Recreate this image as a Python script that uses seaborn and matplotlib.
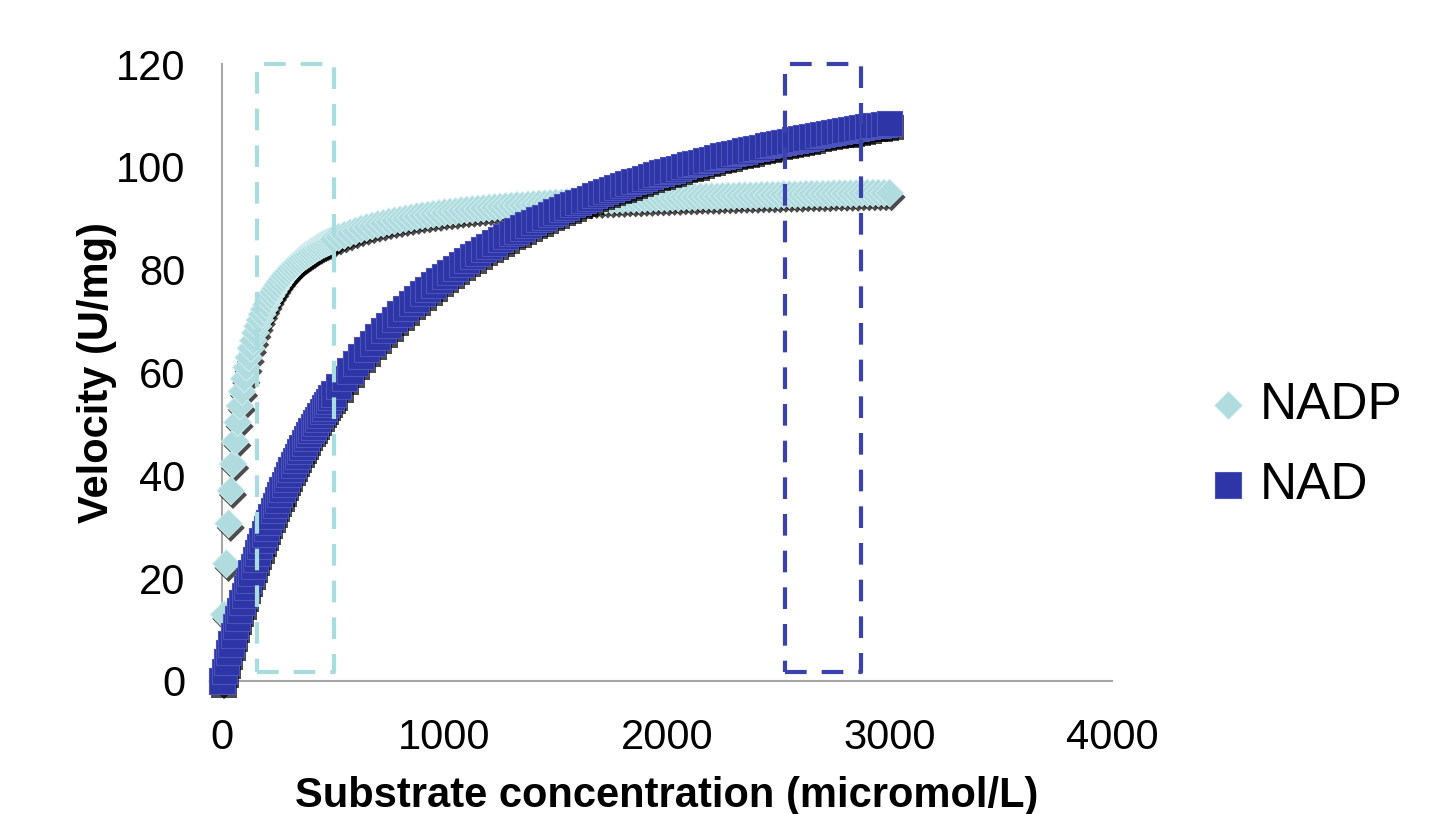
import pandas as pd
import matplotlib.pyplot as plt
import seaborn as sns
from matplotlib import patheffects as pe
from matplotlib.patches import Rectangle

# substrate concentration (micromol/L), shared by both cofactors
conc = [0, 10, 20, 30, 40, 50, 60, 70, 80, 90,
        100, 110, 120, 130, 140, 150, 160, 170, 180, 190,
        200, 210, 220, 230, 240, 250, 260, 270, 280, 290,
        300, 310, 320, 330, 340, 350, 360, 370, 380, 390,
        400, 410, 420, 430, 440, 450, 460, 470, 480, 490,
        500, 525, 550, 575, 600, 625, 650, 675, 700, 725,
        750, 775, 800, 825, 850, 875, 900, 925, 950, 975,
        1000, 1025, 1050, 1075, 1100, 1125, 1150, 1175, 1200, 1225,
        1250, 1275, 1300, 1325, 1350, 1375, 1400, 1425, 1450, 1475,
        1500, 1525, 1550, 1575, 1600, 1625, 1650, 1675, 1700, 1725,
        1750, 1775, 1800, 1825, 1850, 1875, 1900, 1925, 1950, 1975,
        2000, 2025, 2050, 2075, 2100, 2125, 2150, 2175, 2200, 2225,
        2250, 2275, 2300, 2325, 2350, 2375, 2400, 2425, 2450, 2475,
        2500, 2525, 2550, 2575, 2600, 2625, 2650, 2675, 2700, 2725,
        2750, 2775, 2800, 2825, 2850, 2875, 2900, 2925, 2950, 2975,
        3000]

# velocity (U/mg)
nadp_velocity = [0, 12.9, 22.8, 30.6, 37.0, 42.2, 46.6, 50.3, 53.5, 56.3,
                 58.8, 61.0, 62.9, 64.7, 66.2, 67.7, 69.0, 70.2, 71.3, 72.3,
                 73.2, 74.1, 74.9, 75.6, 76.3, 77.0, 77.6, 78.2, 78.7, 79.2,
                 79.7, 80.2, 80.6, 81.0, 81.4, 81.8, 82.2, 82.5, 82.8, 83.1,
                 83.4, 83.7, 84.0, 84.3, 84.5, 84.8, 85.0, 85.2, 85.4, 85.6,
                 85.8, 86.3, 86.7, 87.1, 87.5, 87.9, 88.2, 88.5, 88.8, 89.0,
                 89.3, 89.5, 89.7, 89.9, 90.1, 90.3, 90.5, 90.6, 90.8, 90.9,
                 91.1, 91.2, 91.3, 91.5, 91.6, 91.7, 91.8, 91.9, 92.0, 92.1,
                 92.2, 92.3, 92.4, 92.5, 92.5, 92.6, 92.7, 92.8, 92.8, 92.9,
                 93.0, 93.0, 93.1, 93.2, 93.2, 93.3, 93.3, 93.4, 93.4, 93.5,
                 93.5, 93.6, 93.6, 93.7, 93.7, 93.7, 93.8, 93.8, 93.9, 93.9,
                 93.9, 94.0, 94.0, 94.1, 94.1, 94.1, 94.2, 94.2, 94.2, 94.2,
                 94.3, 94.3, 94.3, 94.4, 94.4, 94.4, 94.4, 94.5, 94.5, 94.5,
                 94.5, 94.6, 94.6, 94.6, 94.6, 94.7, 94.7, 94.7, 94.7, 94.7,
                 94.8, 94.8, 94.8, 94.8, 94.8, 94.9, 94.9, 94.9, 94.9, 94.9,
                 94.9]
nad_velocity = [0, 1.9, 3.7, 5.5, 7.2, 8.9, 10.6, 12.2, 13.7, 15.2,
                16.7, 18.2, 19.6, 21.0, 22.3, 23.6, 24.9, 26.1, 27.4, 28.6,
                29.7, 30.9, 32.0, 33.1, 34.2, 35.2, 36.2, 37.2, 38.2, 39.2,
                40.1, 41.1, 42.0, 42.9, 43.7, 44.6, 45.4, 46.3, 47.1, 47.9,
                48.7, 49.4, 50.2, 50.9, 51.6, 52.4, 53.1, 53.8, 54.4, 55.1,
                55.8, 57.3, 58.9, 60.3, 61.8, 63.1, 64.4, 65.7, 66.9, 68.1,
                69.2, 70.3, 71.4, 72.4, 73.4, 74.3, 75.3, 76.2, 77.0, 77.9,
                78.7, 79.5, 80.3, 81.0, 81.8, 82.5, 83.2, 83.9, 84.5, 85.2,
                85.8, 86.4, 87.0, 87.5, 88.1, 88.7, 89.2, 89.7, 90.2, 90.7,
                91.2, 91.7, 92.2, 92.6, 93.1, 93.5, 93.9, 94.4, 94.8, 95.2,
                95.6, 96.0, 96.3, 96.7, 97.1, 97.4, 97.8, 98.1, 98.5, 98.8,
                99.1, 99.4, 99.7, 100.1, 100.4, 100.6, 100.9, 101.2, 101.5, 101.8,
                102.1, 102.3, 102.6, 102.8, 103.1, 103.3, 103.6, 103.8, 104.1, 104.3,
                104.5, 104.8, 105.0, 105.2, 105.4, 105.6, 105.8, 106.1, 106.3, 106.5,
                106.7, 106.9, 107.0, 107.2, 107.4, 107.6, 107.8, 108.0, 108.1, 108.3,
                108.5]

cofactors = ["NADP", "NAD"]
x_ticks = [0, 1000, 2000, 3000, 4000]
y_ticks = [0, 20, 40, 60, 80, 100, 120]

# dashed highlight windows: (x0, x1, y0, y1)
nadp_window = [157, 502, 1.8, 120]
nad_window = [2530, 2870, 1.8, 120]

sns.set_style("white")
plt.rcParams["font.family"] = ["Liberation Sans", "DejaVu Sans"]
plt.rcParams["text.color"] = "black"
plt.rcParams["axes.labelcolor"] = "black"

df = pd.DataFrame({
    "conc": conc * 2,
    "velocity": nadp_velocity + nad_velocity,
    "cofactor": ["NADP"] * len(conc) + ["NAD"] * len(conc),
})

fig = plt.figure(figsize=(14.54, 8.14), dpi=100)
ax = fig.add_axes([222 / 1454, 1 - 681 / 814, 890 / 1454, 617 / 814])

styles = {
    "NADP": dict(marker="D", s=205, color="#b1dcdf", edgecolor="#d4eff1", linewidth=0.6, zorder=3),
    "NAD": dict(marker="s", s=330, color="#2d35a7", edgecolor="#4b53ba", linewidth=0.8, zorder=4),
}
for name in cofactors:
    sns.scatterplot(data=df[df.cofactor == name], x="conc", y="velocity", ax=ax,
                    label=name, clip_on=False, **styles[name])

for (x0, x1, y0, y1), col in [(nadp_window, "#a9dcdf"), (nad_window, "#3a42ae")]:
    ax.add_patch(Rectangle((x0, y0), x1 - x0, y1 - y0, fill=False, edgecolor=col, lw=3,
                           linestyle=(0, (5.2, 3.6)), zorder=5, clip_on=False, joinstyle="round"))

ax.set_xlim(0, 4000)
ax.set_ylim(0, 120)
ax.set_xticks(x_ticks)
ax.set_yticks(y_ticks)
sns.despine(ax=ax)
for side in ["left", "bottom"]:
    ax.spines[side].set_color("#a6a6a6")
    ax.spines[side].set_linewidth(1.5)
ax.tick_params(axis="both", direction="out", length=8.5, width=1.5, color="#a6a6a6",
               labelsize=30, pad=18, labelcolor="black")

ax.set_xlabel("Substrate concentration (micromol/L)", fontsize=30, fontweight="bold")
ax.set_ylabel("Velocity (U/mg)", fontsize=30, fontweight="bold")
ax.xaxis.set_label_coords(0.5, -0.154)
ax.yaxis.set_label_coords(-0.118, 0.5)

ax.legend(loc="center left", bbox_to_anchor=(1213 / 1454, 0.453), bbox_transform=fig.transFigure,
          frameon=False, fontsize=37, handlelength=0.6, handletextpad=0.3, labelspacing=0.6,
          borderpad=0, borderaxespad=0, scatterpoints=1)

# drop shadow under the markers (added after the legend so the legend keys stay flat)
shadow = [pe.SimplePatchShadow(offset=(1.5, -3), shadow_rgbFace="black", alpha=0.7), pe.Normal()]
for coll in ax.collections:
    coll.set_path_effects(shadow)

fig.savefig("out.png", dpi=100)
